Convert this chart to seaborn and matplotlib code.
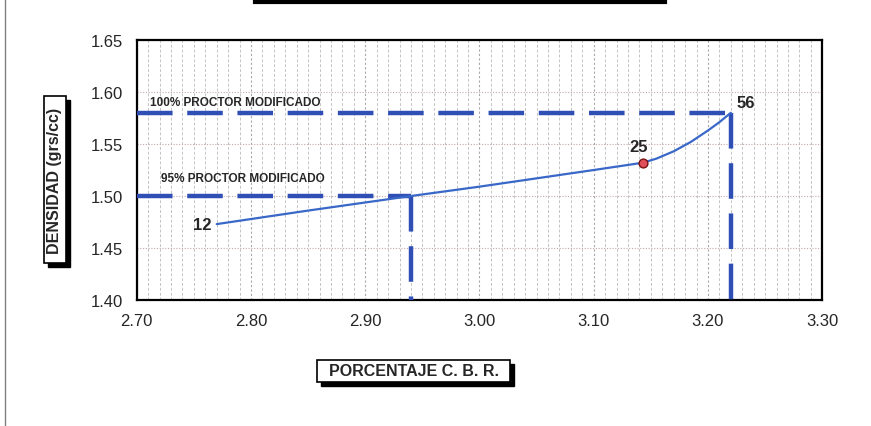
import numpy as np
import pandas as pd
import matplotlib
matplotlib.use("Agg")
import matplotlib.pyplot as plt
from matplotlib.patches import Rectangle
from matplotlib.ticker import MultipleLocator
import seaborn as sns

# curva CBR - densidad
cbr = [2.77, 2.85, 2.94, 3.00, 3.05, 3.10, 3.143, 3.155, 3.17, 3.185, 3.20, 3.21, 3.22]
densidad = [1.473, 1.486, 1.500, 1.509, 1.517, 1.525, 1.532, 1.536, 1.543, 1.552, 1.563, 1.571, 1.580]

# puntos de golpes
golpes = ["12", "25", "56"]
golpes_cbr = [2.77, 3.143, 3.22]
golpes_dens = [1.473, 1.532, 1.580]

# proctor
proctor_100 = 1.58
proctor_95 = 1.50
cbr_100 = 3.22
cbr_95 = 2.94

x_ticks = [2.70, 2.80, 2.90, 3.00, 3.10, 3.20, 3.30]
y_ticks = [1.40, 1.45, 1.50, 1.55, 1.60, 1.65]

sns.set_style("white")
plt.rcParams["font.family"] = ["Liberation Sans", "DejaVu Sans"]

W, H = 871, 427
fig = plt.figure(figsize=(W / 100, H / 100), dpi=100)
ax = fig.add_axes([0.157, 0.295, 0.787, 0.609])

df = pd.DataFrame({"cbr": cbr, "densidad": densidad})
blue = "#2f4fb5"
dash = dict(color=blue, lw=3.2, dashes=(8, 3.3), zorder=3)

# lineas proctor
ax.plot([x_ticks[0], cbr_100], [proctor_100, proctor_100], **dash)
ax.plot([cbr_100, cbr_100], [proctor_100, y_ticks[0]], **dash)
ax.plot([x_ticks[0], cbr_95], [proctor_95, proctor_95], **dash)
ax.plot([cbr_95, cbr_95], [proctor_95, y_ticks[0]], **dash)

sns.lineplot(data=df, x="cbr", y="densidad", ax=ax, color="#3a68c8", lw=1.6,
             sort=False, zorder=4)
sns.scatterplot(x=[golpes_cbr[1]], y=[golpes_dens[1]], ax=ax, color="#e0505a",
                edgecolor="#7a1010", s=40, linewidth=1, zorder=5)

ax.text(golpes_cbr[0] - 0.005, golpes_dens[0], golpes[0], ha="right", va="center",
        fontsize=12, fontweight="bold")
ax.text(golpes_cbr[1] - 0.004, golpes_dens[1] + 0.008, golpes[1], ha="center",
        va="bottom", fontsize=12, fontweight="bold")
ax.text(golpes_cbr[2] + 0.005, golpes_dens[2] + 0.003, golpes[2], ha="left",
        va="bottom", fontsize=12, fontweight="bold")

ax.text(2.712, 1.5905, "100% PROCTOR MODIFICADO", fontsize=8.5, fontweight="bold", va="center")
ax.text(2.721, 1.5175, "95% PROCTOR MODIFICADO", fontsize=8.5, fontweight="bold", va="center")

ax.set_xlim(x_ticks[0], x_ticks[-1])
ax.set_ylim(y_ticks[0], y_ticks[-1])
ax.set_xticks(x_ticks)
ax.set_yticks(y_ticks)
ax.set_xticklabels([f"{v:.2f}" for v in x_ticks], fontsize=12)
ax.set_yticklabels([f"{v:.2f}" for v in y_ticks], fontsize=12)
ax.xaxis.set_minor_locator(MultipleLocator(0.01))
ax.grid(which="minor", axis="x", color="#c4c4c4", lw=0.7, ls=(0, (3, 2)))
ax.grid(which="major", axis="x", color="#a8a8a8", lw=0.8, ls=(0, (2, 2)))
ax.grid(which="major", axis="y", color="#c8a8a8", lw=0.8, ls=(0, (1, 1.5)))
ax.tick_params(axis="both", which="major", direction="out", length=4, width=1,
               color="black")
ax.tick_params(axis="y", pad=6)
ax.tick_params(axis="x", pad=5)
ax.tick_params(axis="x", which="minor", length=0)
ax.set_xlabel("")
ax.set_ylabel("")
for s in ax.spines.values():
    s.set_color("black")
    s.set_linewidth(1.6)


def caja(x0, y0, x1, y1, sombra=4):
    # caja con sombra, coordenadas en pixeles desde arriba
    fig.patches.append(Rectangle(((x0 + sombra) / W, 1 - (y1 + sombra) / H),
                                 (x1 - x0) / W, (y1 - y0) / H,
                                 transform=fig.transFigure, fc="black", ec="black", zorder=0))
    fig.patches.append(Rectangle((x0 / W, 1 - y1 / H), (x1 - x0) / W, (y1 - y0) / H,
                                 transform=fig.transFigure, fc="white", ec="black",
                                 lw=1.2, zorder=1))


caja(44, 97, 66, 264, sombra=4)
fig.text(55 / W, 1 - 180.5 / H, "DENSIDAD (grs/cc)", rotation=90, ha="center",
         va="center", fontsize=11.5, fontweight="bold", zorder=2)
caja(317, 361, 510, 383, sombra=4)
fig.text(413.5 / W, 1 - 372 / H, "PORCENTAJE C. B. R.", ha="center", va="center",
         fontsize=11.5, fontweight="bold", zorder=2)

# caja del titulo (cortada arriba)
fig.patches.append(Rectangle((255 / W, 1 - 3 / H), 410 / W, 0.05, transform=fig.transFigure,
                             fc="white", ec="black", lw=3))
# borde izquierdo
fig.add_artist(plt.Line2D([0.006, 0.006], [0.0, 1.0], transform=fig.transFigure,
                          color="#808080", lw=1))

fig.savefig("out.png", dpi=100)
